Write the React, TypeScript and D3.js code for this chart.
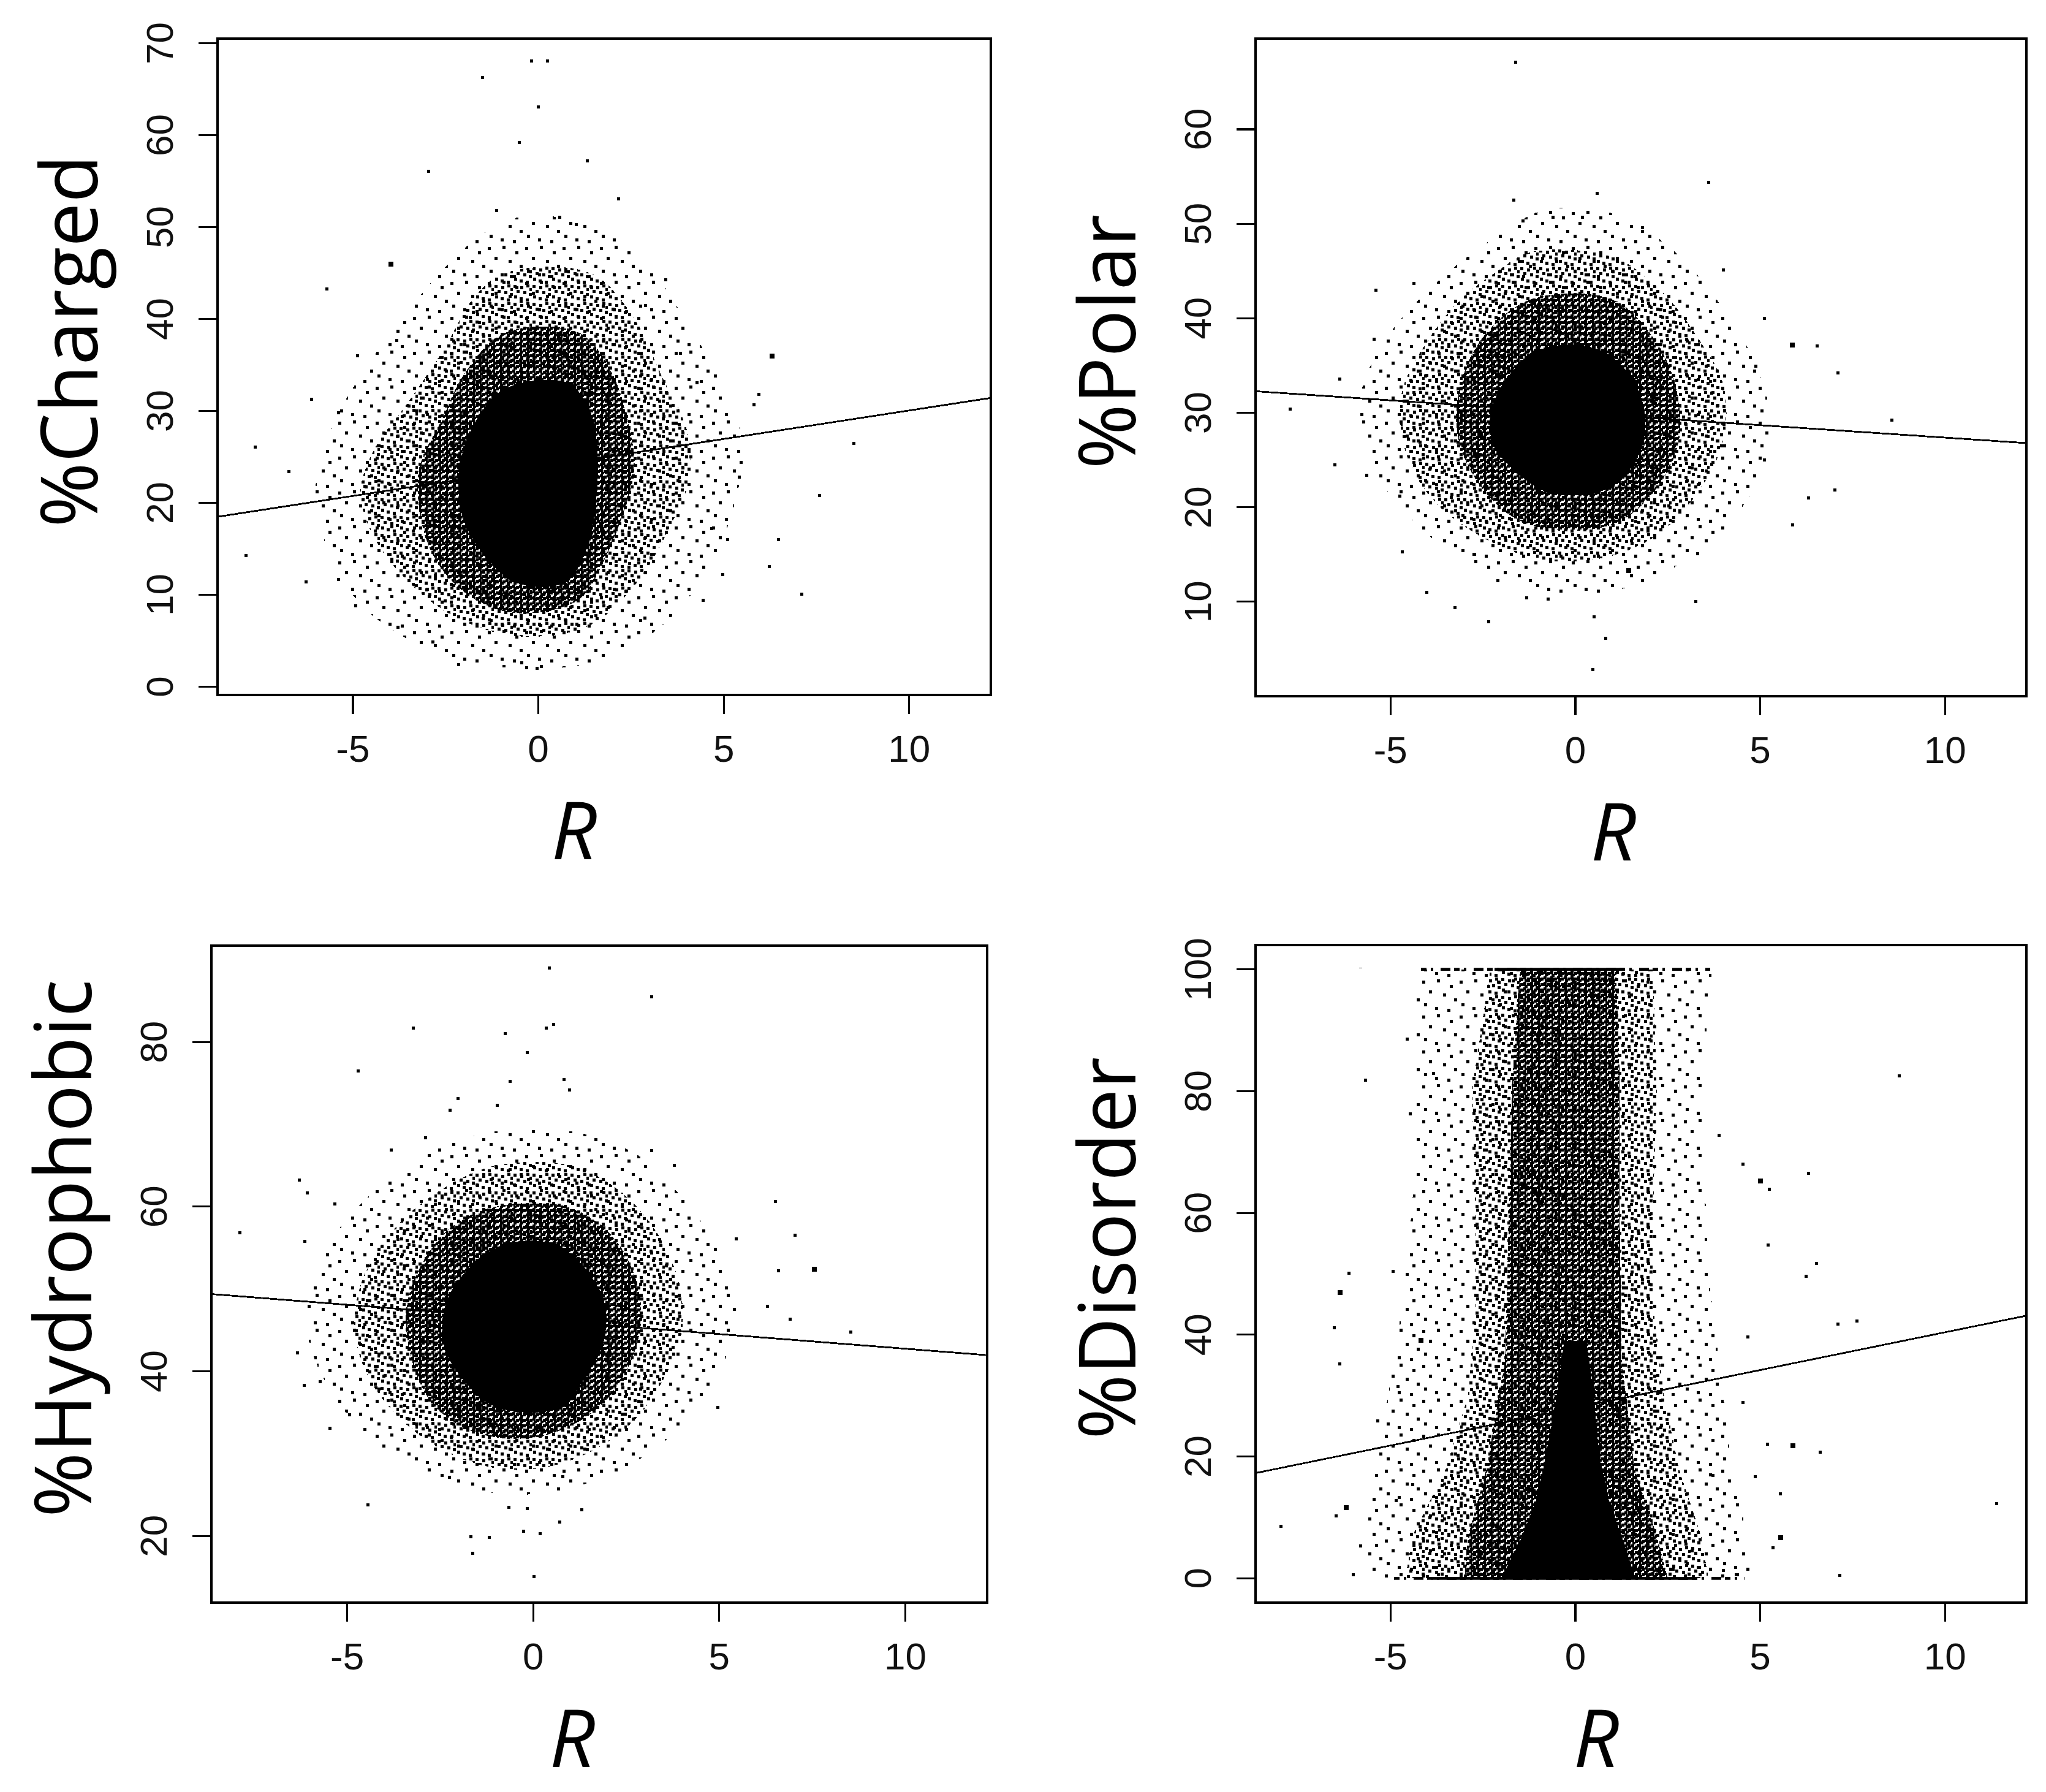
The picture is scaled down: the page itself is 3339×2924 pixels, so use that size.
import * as d3 from "d3";
import React from "react";

type Pt = [number, number];

// shared x axis: R
const X_DOMAIN: [number, number] = [-8.65, 12.2];
const X_TICKS = [-5, 0, 5, 10];

// ---------- %Charged ----------
const chargedYDomain: [number, number] = [-0.9, 70.5];
const chargedYTicks = [0, 10, 20, 30, 40, 50, 60, 70];
const chargedFit = [23.85, 0.62]; // intercept, slope
const chargedCore: Pt[] = [[-0.5, 33], [0.8, 33], [1.4, 30], [1.6, 25], [1.55, 20], [1.3, 15], [0.7, 11.3], [-0.6, 11.3], [-1.4, 14], [-2.0, 18], [-2.15, 23], [-1.8, 28], [-1.2, 31.5]];
const chargedInner: Pt[] = [[-0.9, 38.5], [1.1, 38.5], [2.0, 34], [2.4, 29], [2.6, 24], [2.3, 19], [1.8, 14], [1.1, 9.5], [-0.6, 8], [-1.9, 10], [-2.8, 14], [-3.2, 19], [-3.2, 24], [-2.6, 29], [-2.0, 34]];
const chargedMid: Pt[] = [[-0.9, 45], [1.4, 45], [2.6, 40], [3.3, 34], [4.0, 28], [4.1, 23], [3.5, 17], [2.6, 11], [1.3, 6.5], [-0.6, 5.5], [-2.2, 7.5], [-3.4, 11], [-4.4, 16], [-4.8, 21], [-4.4, 26], [-3.5, 31], [-2.5, 37], [-1.8, 42]];
const chargedOuter: Pt[] = [[-0.6, 51], [1.2, 50.5], [2.7, 47], [3.8, 41], [4.8, 34], [5.5, 27], [5.3, 20], [4.6, 13], [3.3, 6.5], [1.3, 2.5], [-1.2, 2.2], [-3.2, 4.5], [-4.8, 9], [-5.7, 15], [-6.0, 22], [-5.6, 28], [-4.6, 35], [-3.3, 42], [-1.9, 48]];
const chargedPoints: Pt[] = [
  [-1.5, 66.3], [-0.18, 68.1], [0.25, 68.1], [0, 63.1], [-0.51, 59.2], [1.32, 57.2], [-2.96, 56.1],
  [2.17, 53.1], [-1.13, 51.8], [0.58, 51.1], [1.02, 50.3], [-5.7, 43.3], [3.43, 44.3], [8.5, 26.5],
  [7.59, 20.8], [7.1, 10.1], [6.48, 16.0], [6.23, 13.1], [-7.89, 14.3], [-7.64, 26.1], [-6.73, 23.4],
  [-6.11, 31.3], [-5.39, 29.8], [-4.88, 36.0], [-6.27, 11.4], [-5.39, 11.7], [-3.79, 6.5], [-2.85, 4.9],
  [-2.15, 2.4], [-0.04, 2.0], [-0.44, 2.6], [2.87, 7.5], [4.98, 12.2], [4.67, 17.2], [5.42, 22.8],
  [5.81, 30.7], [4.28, 33.1], [3.84, 36.3], [2.89, 41.5], [-3.82, 37.7], [-4.93, 8.8], [5.11, 16.0],
  [5.95, 31.8], [4.45, 9.4],
];
const chargedBig: Pt[] = [[-3.98, 46.0], [6.3, 36.0]];

// ---------- %Polar ----------
const polarYDomain: [number, number] = [0.0, 69.6];
const polarYTicks = [10, 20, 30, 40, 50, 60];
const polarFit = [30.0, -0.263];
const polarCore: Pt[] = [[-0.96, 36.7], [0.64, 36.7], [1.52, 33.7], [1.88, 30], [1.79, 26.4], [1.35, 23.4], [0.64, 21.6], [-0.78, 21.6], [-1.49, 23.4], [-2.2, 26.4], [-2.29, 30], [-1.84, 33.7]];
const polarInner: Pt[] = [[-1.2, 42], [1.0, 42], [2.1, 38], [2.7, 33], [2.8, 27], [2.2, 22], [1.2, 18.5], [-0.3, 17.5], [-1.7, 19], [-2.7, 23], [-3.2, 28], [-3.1, 33], [-2.5, 38]];
const polarMid: Pt[] = [[-1.2, 47], [1.0, 46.5], [2.3, 43], [3.3, 38], [4.0, 33], [4.0, 27], [3.3, 21.5], [2.2, 17], [0.6, 14.5], [-1.0, 14.5], [-2.6, 17], [-3.9, 21], [-4.6, 26], [-4.7, 32], [-4.1, 37], [-3.1, 42], [-2.1, 45]];
const polarOuter: Pt[] = [[-0.8, 51.5], [1.1, 51], [2.7, 47], [4.0, 41], [5.0, 34], [5.3, 27], [4.6, 20.5], [3.4, 15.5], [1.4, 11.5], [-0.8, 11], [-2.9, 14], [-4.5, 19], [-5.6, 25], [-5.8, 32], [-5.0, 38.5], [-3.4, 45], [-2.0, 49]];
const polarPoints: Pt[] = [
  [-1.61, 67.1], [-1.67, 52.5], [0.59, 53.2], [3.6, 54.4], [-0.6, 50.7], [0.2, 50.7], [1.81, 49.6],
  [-1.42, 50.3], [4.01, 45.1], [-5.39, 43.0], [-4.36, 43.7], [-5.44, 37.8], [6.54, 37.1], [7.11, 34.2],
  [8.56, 29.2], [4.89, 34.9], [5.11, 40.0], [-7.71, 30.4], [-6.37, 33.6], [-6.51, 24.5], [-5.64, 23.4],
  [-4.75, 21.2], [-4.68, 15.3], [-4.01, 11.0], [-3.26, 9.4], [-2.34, 7.9], [-1.31, 10.4], [-0.73, 10.3],
  [0.51, 8.4], [0.82, 6.1], [0.48, 2.8], [3.26, 10.0], [3.3, 15.1], [5.87, 18.1], [6.31, 21.0],
  [7.02, 21.8], [5.12, 25.0], [3.95, 26.5], [-2.09, 12.2], [-2.73, 15.0],
];
const polarBig: Pt[] = [[5.87, 37.2], [1.45, 13.3]];

// ---------- %Hydrophobic ----------
const hydroYDomain: [number, number] = [11.9, 91.7];
const hydroYTicks = [20, 40, 60, 80];
const hydroFit = [46.3, -0.356];
const hydroCore: Pt[] = [[-0.79, 55.4], [0.62, 55.4], [1.5, 51.9], [1.94, 47.8], [1.85, 42.9], [1.32, 38.8], [0.79, 35.6], [-0.97, 35.6], [-1.85, 38.8], [-2.38, 42.9], [-2.38, 47.8], [-1.85, 51.9]];
const hydroInner: Pt[] = [[-1.0, 60], [0.9, 60], [2.0, 57], [2.7, 52], [2.9, 46], [2.5, 40], [1.6, 35], [0.1, 32], [-1.5, 32.5], [-2.7, 36], [-3.3, 42], [-3.4, 48], [-3.0, 53], [-2.2, 57.5]];
const hydroMid: Pt[] = [[-1.0, 65], [1.0, 65], [2.3, 62], [3.3, 57], [3.9, 51], [4.0, 45], [3.5, 39], [2.6, 33.5], [1.2, 29.5], [-0.4, 28], [-2.0, 29.5], [-3.4, 33.5], [-4.4, 39], [-4.8, 45], [-4.6, 51], [-3.8, 57], [-2.5, 62]];
const hydroOuter: Pt[] = [[-1.2, 69], [1.2, 69], [2.9, 66], [4.2, 60], [5.1, 54], [5.5, 47], [5.0, 40], [3.9, 33], [2.1, 27.5], [-0.3, 25], [-2.6, 27], [-4.3, 31.5], [-5.5, 38], [-6.1, 45.5], [-5.8, 53], [-4.7, 60], [-3.0, 66]];
const hydroPoints: Pt[] = [
  [0.44, 89.0], [3.19, 85.5], [-3.22, 81.7], [-0.76, 81.0], [0.35, 81.7], [0.55, 82.1], [-0.16, 78.7],
  [-4.7, 76.5], [-0.62, 75.2], [0.83, 75.4], [0.97, 74.2], [-2.02, 73.1], [-2.24, 71.7], [-0.97, 72.3],
  [-2.9, 68.4], [-3.82, 66.9], [-6.29, 63.2], [-6.07, 61.7], [-5.33, 60.3], [-7.89, 56.8], [-6.14, 55.8],
  [6.51, 60.6], [7.04, 56.5], [6.6, 52.2], [8.54, 44.8], [6.9, 46.3], [6.29, 47.9], [5.46, 56.1],
  [4.96, 35.6], [3.79, 65.0], [3.19, 66.8], [-6.34, 42.2], [-6.16, 38.3], [-5.72, 38.7], [-4.93, 34.7],
  [-5.46, 33.1], [-4.45, 23.8], [-2.25, 27.1], [-1.67, 19.9], [-1.18, 19.8], [-1.62, 17.9], [-0.26, 20.6],
  [0.19, 20.3], [0.02, 15.1], [1.3, 23.2], [0.72, 21.7], [-0.16, 23.3], [-0.65, 23.5], [0.79, 27.2],
];
const hydroBig: Pt[] = [[7.55, 52.4]];

// ---------- %Disorder ----------
const disorderYDomain: [number, number] = [-4.0, 104.0];
const disorderYTicks = [0, 20, 40, 60, 80, 100];
const disorderFit = [28.0, 1.24];
const disorderCore: Pt[] = [[-2.0, 0], [1.6, 0], [1.3, 6], [0.9, 13], [0.65, 20], [0.5, 30], [0.3, 39], [-0.3, 39], [-0.5, 30], [-0.8, 20], [-1.05, 13], [-1.5, 6]];
const disorderInner: Pt[] = [[-3.0, 0], [2.5, 0], [2.2, 7], [1.6, 18], [1.25, 36], [1.2, 59], [1.2, 82], [1.1, 100], [-1.5, 100], [-1.7, 82], [-1.8, 59], [-1.9, 36], [-2.4, 18], [-2.9, 7]];
const disorderMid: Pt[] = [[-4.6, 0], [3.6, 0], [3.4, 7], [2.8, 18], [2.4, 30], [2.1, 45], [2.1, 60], [2.2, 80], [2.1, 100], [-2.3, 100], [-2.8, 80], [-2.7, 60], [-2.7, 45], [-2.9, 30], [-3.5, 18], [-4.4, 7]];
const disorderOuter: Pt[] = [[-5.6, 0], [4.8, 0], [4.6, 8], [4.2, 20], [3.9, 35], [3.6, 50], [3.5, 65], [3.4, 80], [3.7, 100], [-4.3, 100], [-4.3, 85], [-4.3, 70], [-4.5, 55], [-4.8, 40], [-5.2, 25], [-5.6, 10]];
const disorderPoints: Pt[] = [
  [-5.8, 100.4], [-4.54, 88.5], [-5.67, 81.8], [-3.83, 82.9], [8.76, 82.5], [-4.47, 76.3], [3.88, 72.7],
  [4.54, 68.0], [5.25, 63.9], [6.31, 66.5], [6.52, 51.7], [6.24, 49.6], [5.21, 54.7], [-6.13, 50.1],
  [-4.93, 50.4], [-6.52, 41.1], [-6.37, 35.2], [-4.79, 31.5], [-5.34, 25.8], [7.61, 42.3], [7.11, 41.7],
  [4.66, 39.6], [4.54, 28.9], [5.2, 22.0], [6.63, 20.7], [4.86, 16.7], [5.55, 13.9], [5.34, 5.0],
  [11.4, 12.3], [7.15, 0.5], [-7.96, 8.5], [-6.47, 10.2], [-5.8, 5.3], [-6.01, 0.6], [-4.84, 12.8],
  [-4.4, 15.4], [3.65, 17.0], [4.36, 0.6], [4.0, 1.3],
];
const disorderBig: Pt[] = [[5.0, 65.2], [-6.37, 46.9], [-4.17, 39.1], [5.89, 21.8], [5.55, 6.7], [-6.19, 11.6]];
// rows of points piled at the 100% / 0% limits: sparse extent, dense extent
const disorderRowLevels = [100, 0];
const disorderRowSparse: Pt[] = [[-4.17, 3.64], [-4.9, 4.6]];
const disorderRowDense: Pt[] = [[-2.19, 1.31], [-3.9, 3.3]];

// ---------- layout / style ----------
const W = 3339;
const H = 2924;
const DOT = 5;
const BIG_DOT = 8;
const TICK_FONT = "'Liberation Sans', Arial, sans-serif";
const TITLE_FONT = "'Open Sans', 'Noto Sans', sans-serif";

// speckle textures standing in for the dense clouds of pch="." points
const TEXTURES = [
  {
    id: "speck-a", w: 61, h: 57,
    dots: [[3, 4], [27, 2], [48, 11], [14, 20], [37, 25], [55, 33], [6, 41], [24, 47], [44, 50]],
  },
  {
    id: "speck-b", w: 31, h: 29,
    dots: [[1, 1], [12, 3], [22, 0], [6, 9], [17, 11], [26, 14], [2, 18], [11, 21], [21, 23], [27, 6]],
  },
  { id: "speck-c", w: 11, h: 9, dots: [[0, 0], [6, 2], [2, 5]] },
];

interface Box { left: number; top: number; right: number; bottom: number }

interface PanelSpec {
  key: string;
  title: string;
  box: Box;
  rShift: number;
  yDomain: [number, number];
  yTicks: number[];
  fit: number[];
  outer: Pt[];
  mid: Pt[];
  inner: Pt[];
  core: Pt[];
  points: Pt[];
  big: Pt[];
  linear?: boolean;
  valueRange?: [number, number];
}

const PANELS: PanelSpec[] = [
  {
    key: "charged", title: "%Charged",
    box: { left: 355, top: 63, right: 1617, bottom: 1134 }, rShift: -49,
    yDomain: chargedYDomain, yTicks: chargedYTicks, fit: chargedFit,
    outer: chargedOuter, mid: chargedMid, inner: chargedInner, core: chargedCore,
    points: chargedPoints, big: chargedBig,
  },
  {
    key: "polar", title: "%Polar",
    box: { left: 2049, top: 63, right: 3307, bottom: 1136 }, rShift: -45,
    yDomain: polarYDomain, yTicks: polarYTicks, fit: polarFit,
    outer: polarOuter, mid: polarMid, inner: polarInner, core: polarCore,
    points: polarPoints, big: polarBig,
  },
  {
    key: "hydro", title: "%Hydrophobic",
    box: { left: 345, top: 1543, right: 1611, bottom: 2615 }, rShift: -44,
    yDomain: hydroYDomain, yTicks: hydroYTicks, fit: hydroFit,
    outer: hydroOuter, mid: hydroMid, inner: hydroInner, core: hydroCore,
    points: hydroPoints, big: hydroBig,
  },
  {
    key: "disorder", title: "%Disorder",
    box: { left: 2049, top: 1542, right: 3307, bottom: 2615 }, rShift: -73,
    yDomain: disorderYDomain, yTicks: disorderYTicks, fit: disorderFit,
    outer: disorderOuter, mid: disorderMid, inner: disorderInner, core: disorderCore,
    points: disorderPoints, big: disorderBig, linear: true, valueRange: [0, 100],
  },
];

const Panel: React.FC<{ spec: PanelSpec }> = ({ spec }) => {
  const { box } = spec;
  const x = d3.scaleLinear().domain(X_DOMAIN).range([box.left, box.right]);
  const y = d3.scaleLinear().domain(spec.yDomain).range([box.bottom, box.top]);

  const outline = d3
    .line<Pt>()
    .x((d) => x(d[0]))
    .y((d) => y(d[1]))
    .curve(spec.linear ? d3.curveLinearClosed : d3.curveCatmullRomClosed.alpha(0.5));

  // clip to plot region (and to the 0-100 band for bounded values)
  const clipTop = spec.valueRange ? Math.max(box.top, y(spec.valueRange[1]) - DOT / 2) : box.top;
  const clipBottom = spec.valueRange ? Math.min(box.bottom, y(spec.valueRange[0]) + DOT / 2) : box.bottom;
  const clipId = `clip-${spec.key}`;

  const fitLine = d3
    .line<number>()
    .x((r) => x(r))
    .y((r) => y(spec.fit[0] + spec.fit[1] * r));

  const cx = (box.left + box.right) / 2;
  const cy = (box.top + box.bottom) / 2;

  return (
    <g>
      <defs>
        <clipPath id={clipId}>
          <rect x={box.left} y={clipTop} width={box.right - box.left} height={clipBottom - clipTop} />
        </clipPath>
      </defs>

      <g clipPath={`url(#${clipId})`}>
        <path d={outline(spec.outer) ?? ""} fill="url(#speck-a)" />
        <path d={outline(spec.mid) ?? ""} fill="url(#speck-b)" />
        <path d={outline(spec.inner) ?? ""} fill="url(#speck-c)" />
        <path d={outline(spec.core) ?? ""} fill="#000" />

        {spec.key === "disorder" &&
          disorderRowLevels.map((lv, i) => (
            <g key={lv}>
              <line
                x1={x(disorderRowSparse[i][0])}
                x2={x(disorderRowSparse[i][1])}
                y1={y(lv)}
                y2={y(lv)}
                stroke="#000"
                strokeWidth={DOT}
                strokeDasharray="9 7 4 12 16 6"
              />
              <line
                x1={x(disorderRowDense[i][0])}
                x2={x(disorderRowDense[i][1])}
                y1={y(lv)}
                y2={y(lv)}
                stroke="#000"
                strokeWidth={DOT}
              />
            </g>
          ))}

        {spec.points.map((p, i) => (
          <rect key={`p${i}`} x={x(p[0]) - DOT / 2} y={y(p[1]) - DOT / 2} width={DOT} height={DOT} fill="#000" />
        ))}
        {spec.big.map((p, i) => (
          <rect key={`b${i}`} x={x(p[0]) - BIG_DOT / 2} y={y(p[1]) - BIG_DOT / 2} width={BIG_DOT} height={BIG_DOT} fill="#000" />
        ))}

        <path d={fitLine(X_DOMAIN) ?? ""} fill="none" stroke="#000" strokeWidth={2.8} />
      </g>

      {/* frame */}
      <rect
        x={box.left}
        y={box.top}
        width={box.right - box.left}
        height={box.bottom - box.top}
        fill="none"
        stroke="#000"
        strokeWidth={3.2}
      />

      {/* x axis */}
      {X_TICKS.map((t) => (
        <g key={`x${t}`}>
          <line x1={x(t)} x2={x(t)} y1={box.bottom} y2={box.bottom + 31} stroke="#000" strokeWidth={3.2} />
          <text
            x={x(t)}
            y={box.bottom + 109}
            textAnchor="middle"
            fontFamily={TICK_FONT}
            fontSize={62}
            fill="#111"
          >
            {t}
          </text>
        </g>
      ))}

      {/* y axis */}
      {spec.yTicks.map((t) => (
        <g key={`y${t}`}>
          <line x1={box.left - 31} x2={box.left} y1={y(t)} y2={y(t)} stroke="#000" strokeWidth={3.2} />
          <text
            transform={`translate(${box.left - 73},${y(t)}) rotate(-90)`}
            textAnchor="middle"
            fontFamily={TICK_FONT}
            fontSize={62}
            fill="#111"
          >
            {t}
          </text>
        </g>
      ))}

      <text
        transform={`translate(${box.left - 196},${cy - 42}) rotate(-90)`}
        textAnchor="middle"
        fontFamily={TITLE_FONT}
        fontSize={128}
        fill="#000"
      >
        {spec.title}
      </text>
      <text
        x={cx + spec.rShift}
        y={box.bottom + 268}
        textAnchor="middle"
        fontFamily={TITLE_FONT}
        fontStyle="italic"
        fontSize={130}
        fill="#000"
      >
        R
      </text>
    </g>
  );
};

const App: React.FC = () => (
  <svg
    width={W}
    height={H}
    viewBox={`0 0 ${W} ${H}`}
    style={{ position: "absolute", left: 0, top: 0, background: "#fff", display: "block" }}
    shapeRendering="crispEdges"
  >
    <defs>
      {TEXTURES.map((tx) => (
        <pattern key={tx.id} id={tx.id} width={tx.w} height={tx.h} patternUnits="userSpaceOnUse">
          {tx.dots.map(([dx, dy], i) => (
            <rect key={i} x={dx} y={dy} width={DOT} height={DOT} fill="#000" />
          ))}
        </pattern>
      ))}
    </defs>
    <rect width={W} height={H} fill="#fff" />
    {PANELS.map((p) => (
      <Panel key={p.key} spec={p} />
    ))}
  </svg>
);

export default App;
